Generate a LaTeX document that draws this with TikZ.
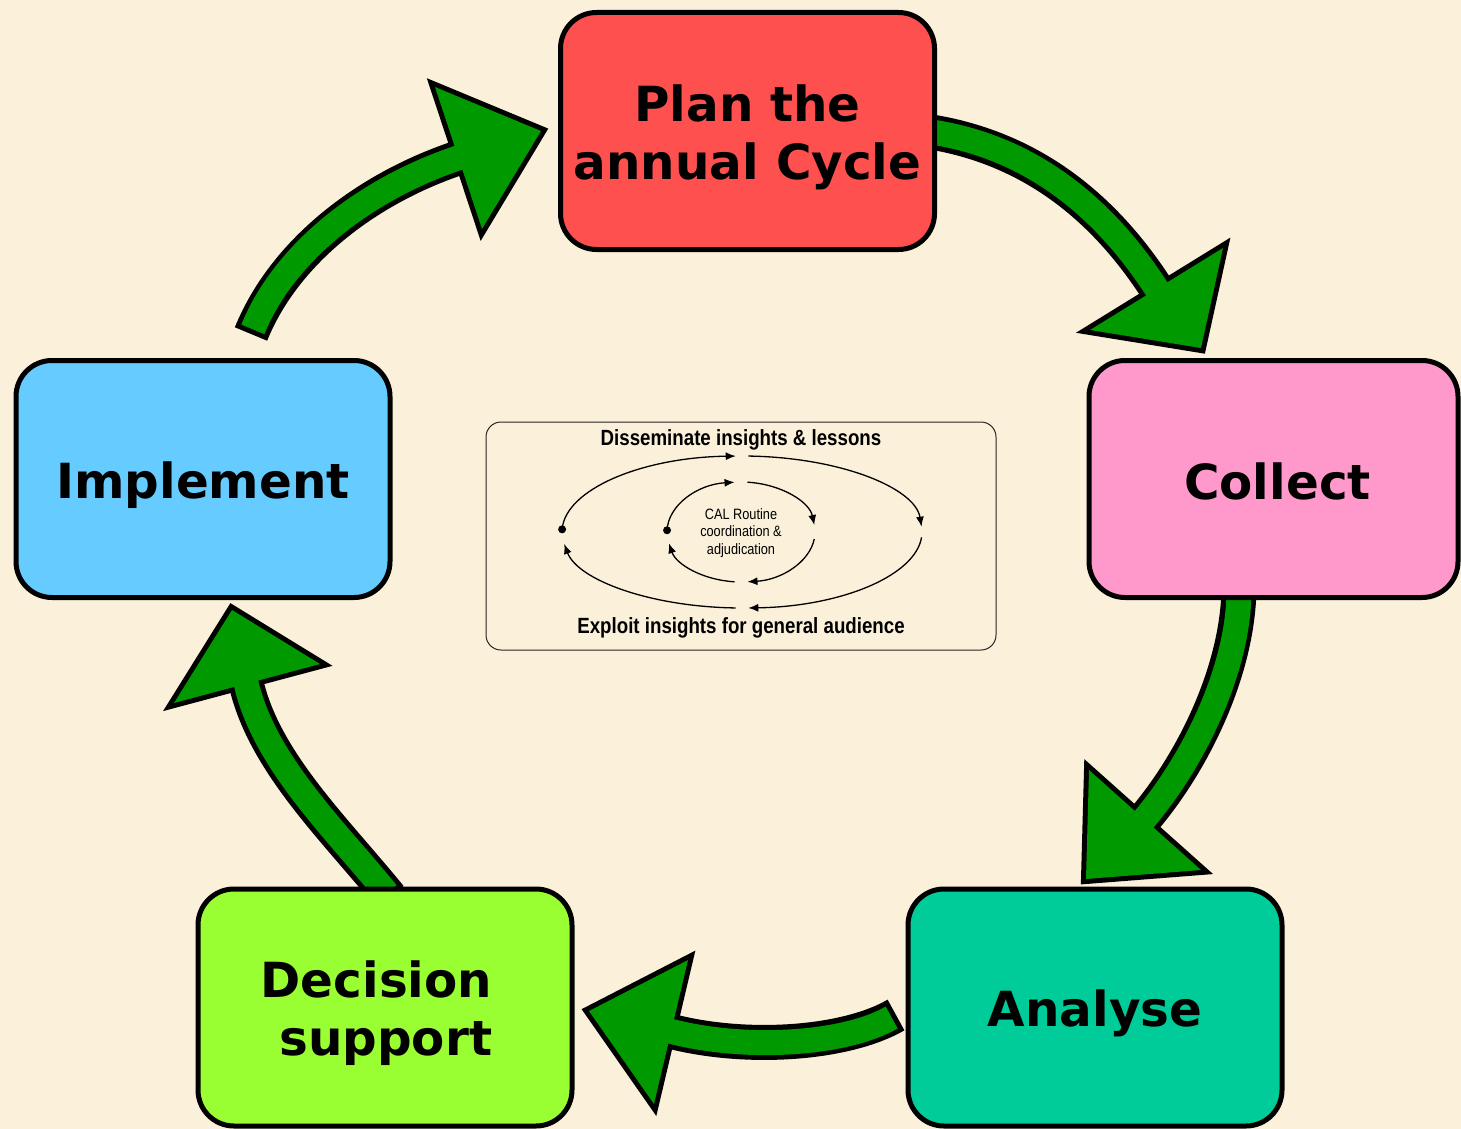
\documentclass[tikz,border=0pt]{standalone}
\usepackage{fontspec}
\usetikzlibrary{arrows.meta}
\newfontfamily\stagefont{DejaVu Sans}
\newfontfamily\insetfont[FakeStretch=0.85]{Liberation Sans}
\definecolor{paper}{RGB}{251,241,218}
\definecolor{planred}{RGB}{255,80,80}
\definecolor{collectpink}{RGB}{255,153,204}
\definecolor{analysegreen}{RGB}{0,204,153}
\definecolor{decisionlime}{RGB}{153,255,51}
\definecolor{implementblue}{RGB}{102,204,255}
\definecolor{cyclegreen}{RGB}{0,153,0}
% big cycle arrow: tail, control 1, control 2, shaft end, wing, wing, tip
\newcommand\cyclearrow[7]{%
  \draw[shaftout] (#1) .. controls (#2) and (#3) .. (#4);
  \filldraw[headout] (#5) -- (#7) -- (#6) -- cycle;
  \draw[shaftin] (#1) .. controls (#2) and (#3) .. (#4);
  \fill[headin] (#5) -- (#7) -- (#6) -- cycle;
}
\begin{document}
\begin{tikzpicture}[x=0.5pt,y=-0.5pt]
  \tikzset{
    stage/.style={draw=black,line width=2.5pt,rounded corners=18pt,
      minimum width=187pt,minimum height=118.5pt,inner sep=0pt},
    stagetext/.style={inner sep=0pt,align=center,yshift=-3pt,
      font=\stagefont\bfseries\fontsize{24.2}{29}\selectfont},
    shaftout/.style={draw=black,line width=17.5pt,line cap=butt},
    shaftin/.style={draw=cyclegreen,line width=12.5pt,line cap=butt,shorten <=2.5pt},
    headout/.style={draw=black,fill=black,line width=5pt,line join=miter},
    headin/.style={fill=cyclegreen},
    loop/.style={line width=0.65pt,-{Latex[length=5pt,width=4pt]}},
    insetlabel/.style={font=\insetfont\bfseries\fontsize{11}{13}\selectfont,inner sep=0pt},
  }
  \fill[paper] (0,0) rectangle (1461,1129);
  \useasboundingbox (0,0) rectangle (1461,1129);

  % arrow points
  \coordinate (a1t) at (925,131);  \coordinate (a1e) at (1160,294);
  \coordinate (a1w) at (1223,248); \coordinate (a1v) at (1090,330); \coordinate (a1p) at (1201,348);
  \coordinate (a2t) at (1239,585); \coordinate (a2e) at (1140,824);
  \coordinate (a2w) at (1089,770); \coordinate (a2v) at (1201,870); \coordinate (a2p) at (1086,879);
  \coordinate (a3t) at (896,1015); \coordinate (a3e) at (666,1030);
  \coordinate (a3w) at (688,960);  \coordinate (a3v) at (654,1104); \coordinate (a3p) at (589,1011);
  \coordinate (a4t) at (390,897);  \coordinate (a4e) at (245,678);
  \coordinate (a4w) at (174,703);  \coordinate (a4v) at (320,664); \coordinate (a4p) at (232,610);
  \coordinate (a5t) at (251,334);  \coordinate (a5e) at (464,156);
  \coordinate (a5w) at (435,87);   \coordinate (a5v) at (482,229); \coordinate (a5p) at (541,131);

  \cyclearrow{a1t}{1040,148}{1112,218}{a1e}{a1w}{a1v}{a1p}
  \cyclearrow{a2t}{1239,670}{1192,765}{a2e}{a2w}{a2v}{a2p}
  \cyclearrow{a3t}{844,1045}{742,1051}{a3e}{a3w}{a3v}{a3p}
  \cyclearrow{a4t}{334,828}{261,759}{a4e}{a4w}{a4v}{a4p}
  \cyclearrow{a5t}{285,250}{370,186}{a5e}{a5w}{a5v}{a5p}

  % stages
  \node[stage,fill=planred,label={[stagetext]center:{Plan the\\annual Cycle}}] (plan) at (747.5,131) {};
  \node[stage,fill=collectpink,minimum width=184.5pt,
    label={[stagetext,xshift=2pt,yshift=2pt]center:Collect}] (collect) at (1273.5,479) {};
  \node[stage,fill=analysegreen,label={[stagetext]center:Analyse}] (analyse) at (1095,1007.5) {};
  \node[stage,fill=decisionlime,
    label={[stagetext,align=right]center:{Decision\hspace*{8.5pt}\\support\hspace*{8.5pt}}}]
    (decision) at (385,1007.5) {};
  \node[stage,fill=implementblue,label={[stagetext]center:Implement}] (implement) at (203,479) {};

  % inset
  \draw[black!85,line width=0.5pt,rounded corners=7.5pt] (486,422) rectangle (996,650);
  \node[insetlabel] (dissem) at (741,440) {Disseminate insights \& lessons};
  \node[insetlabel] (exploit) at (741,628) {Exploit insights for general audience};
  \node[font=\insetfont\fontsize{7.5}{8.75}\selectfont,align=center,inner sep=0pt] (cal)
    at (741,533) {CAL Routine\\coordination \&\\adjudication};

  \coordinate (outerc) at (742,532);
  \coordinate (innerc) at (741,532);
  \draw[loop] ([shift={(182:180 and 76)}]outerc) arc[start angle=182,end angle=268,x radius=180,y radius=76];
  \draw[loop] ([shift={(272:180 and 76)}]outerc) arc[start angle=272,end angle=356,x radius=180,y radius=76];
  \draw[loop] ([shift={(4:180 and 76)}]outerc) arc[start angle=4,end angle=88,x radius=180,y radius=76];
  \draw[loop] ([shift={(92:180 and 76)}]outerc) arc[start angle=92,end angle=171,x radius=180,y radius=76];
  \draw[loop] ([shift={(182:74 and 50)}]innerc) arc[start angle=182,end angle=265,x radius=74,y radius=50];
  \draw[loop] ([shift={(275:74 and 50)}]innerc) arc[start angle=275,end angle=352,x radius=74,y radius=50];
  \draw[loop] ([shift={(8:74 and 50)}]innerc) arc[start angle=8,end angle=85,x radius=74,y radius=50];
  \draw[loop] ([shift={(95:74 and 50)}]innerc) arc[start angle=95,end angle=167,x radius=74,y radius=50];
  \fill ([shift={(182:180 and 76)}]outerc) circle[radius=4];
  \fill ([shift={(182:74 and 50)}]innerc) circle[radius=4];
\end{tikzpicture}
\end{document}
